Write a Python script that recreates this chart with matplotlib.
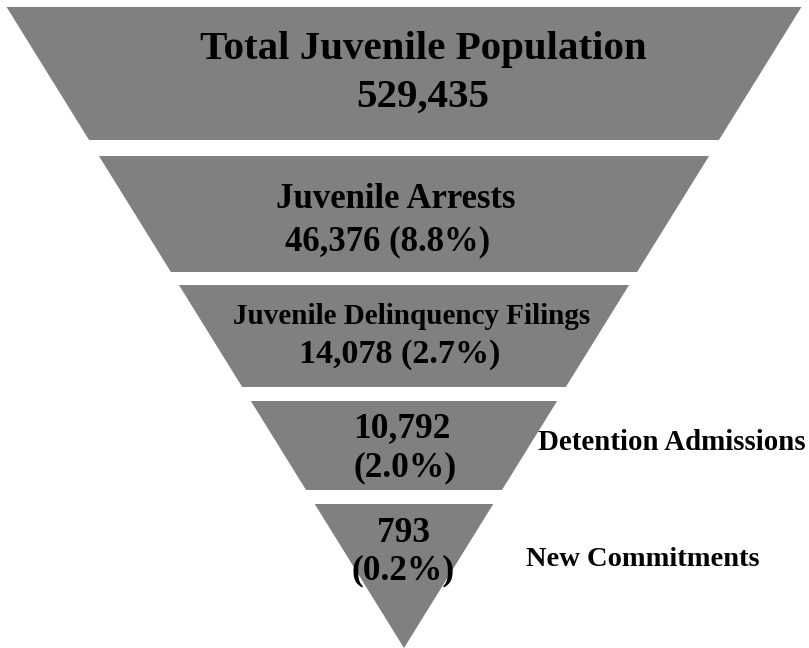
import matplotlib.pyplot as plt
from matplotlib.patches import Polygon

# funnel stages, top to bottom
stage_names = ["Total Juvenile Population", "Juvenile Arrests",
               "Juvenile Delinquency Filings", "Detention Admissions",
               "New Commitments"]
counts = [529435, 46376, 14078, 10792, 793]
shares = [None, 8.8, 2.7, 2.0, 0.2]

# band edges in pixel rows (y down), one triangle cut into pieces
band_top = [7, 156, 285, 401, 504]
band_bot = [140, 272, 387, 490, 648]
apex_x, apex_y = 404, 648
slope = 0.62

W, H = 809, 648
fig = plt.figure(figsize=(W / 100, H / 100), dpi=100)
ax = fig.add_axes([0, 0, 1, 1])
ax.set_xlim(0, W)
ax.set_ylim(H, 0)
ax.axis("off")

def half_width(y):
    return slope * (apex_y - y)

for t, b in zip(band_top, band_bot):
    pts = [(apex_x - half_width(t), t), (apex_x + half_width(t), t),
           (apex_x + half_width(b), b), (apex_x - half_width(b), b)]
    ax.add_patch(Polygon(pts, closed=True, fc="#808080", ec="none"))

font = dict(family="Liberation Serif", weight="bold", color="black",
            ha="center", va="center")

# stage 1
ax.text(423, 50, stage_names[0], fontsize=29.5, **font)
ax.text(423, 97, f"{counts[0]:,}", fontsize=29.5, **font)
# stage 2
ax.text(396, 200, stage_names[1], fontsize=25, **font)
ax.text(388, 242, f"{counts[1]:,} ({shares[1]}%)", fontsize=25, **font)
# stage 3
ax.text(412, 316, stage_names[2], fontsize=21, **font)
ax.text(400, 354, f"{counts[2]:,} ({shares[2]}%)", fontsize=24.5, **font)
# stage 4, name outside
ax.text(402, 429, f"{counts[3]:,}", fontsize=25.5, **font)
ax.text(405, 468, f"({shares[3]}%)", fontsize=25.5, **font)
ax.text(538, 443, stage_names[3], fontsize=20.8, family="Liberation Serif",
        weight="bold", ha="left", va="center")
# stage 5, name outside
ax.text(404, 533, f"{counts[4]:,}", fontsize=25.5, **font)
ax.text(403, 571, f"({shares[4]}%)", fontsize=25.5, **font)
ax.text(526, 560, stage_names[4], fontsize=20.5, family="Liberation Serif",
        weight="bold", ha="left", va="center")

fig.savefig("out.png", dpi=100)
